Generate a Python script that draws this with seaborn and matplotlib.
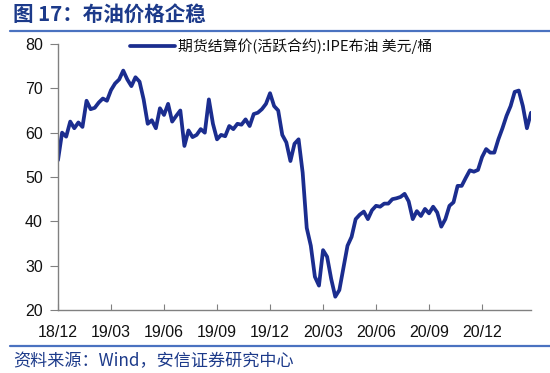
import matplotlib
matplotlib.use("Agg")
import matplotlib.pyplot as plt
import seaborn as sns
import pandas as pd
import numpy as np

# ---- data (weekly readings of Brent settlement, USD/bbl) ----
prices = [
    53.8, 60.0, 59.1, 62.5, 61.0, 62.3, 61.3, 67.2, 65.3, 65.6,
    66.8, 67.7, 67.2, 69.6, 71.1, 72.0, 74.0, 72.0, 70.5, 72.5,
    71.5, 67.5, 62.0, 62.8, 61.0, 65.5, 64.0, 66.5, 62.5, 63.8,
    65.0, 57.0, 60.5, 59.0, 59.5, 60.8, 60.0, 67.5, 62.0, 58.5,
    59.5, 59.2, 61.5, 60.8, 62.0, 61.8, 63.0, 61.5, 64.2, 64.5,
    65.3, 66.5, 68.9, 66.0, 65.0, 59.5, 57.8, 53.6, 57.5, 58.5,
    51.0, 38.5, 34.5, 27.5, 25.5, 33.5, 32.0, 27.0, 23.0, 24.5,
    29.5, 34.5, 36.5, 40.5, 41.5, 42.2, 40.5, 42.5, 43.5, 43.3,
    44.0, 44.0, 45.0, 45.2, 45.5, 46.2, 44.5, 40.5, 42.3, 41.2,
    42.8, 41.8, 43.3, 42.0, 38.8, 40.5, 43.5, 44.3, 48.0, 48.0,
    49.8, 51.5, 51.2, 51.6, 54.5, 56.3, 55.5, 55.5, 58.5, 61.0,
    63.8, 66.0, 69.2, 69.5, 66.0, 61.0, 64.5,
]
tick_labels = ["18/12", "19/03", "19/06", "19/09", "19/12",
               "20/03", "20/06", "20/09", "20/12"]
series_name = "期货结算价(活跃合约):IPE布油 美元/桶"
title_text = "图 17：布油价格企稳"
source_text = "资料来源：Wind，安信证券研究中心"

dates = pd.date_range("2018-12-03", periods=len(prices), freq="7D")
df = pd.DataFrame({"date": dates, "price": prices})

sns.set_theme(style="white")
plt.rcParams["font.family"] = ["Liberation Sans", "Noto Sans CJK SC", "DejaVu Sans"]

navy = "#1C3A8A"
line_col = "#1B2D8F"
axis_col = "#808080"

fig = plt.figure(figsize=(5.5, 3.73), dpi=100)
ax = fig.add_axes([58 / 550, 1 - 310 / 373, (531 - 58) / 550, (310 - 44) / 373])

sns.lineplot(data=df, x="date", y="price", ax=ax, color=line_col,
             linewidth=2.7, label=series_name)

ax.set_xlim(dates[0], dates[-1])
ax.set_ylim(20, 80)
ax.set_yticks([20, 30, 40, 50, 60, 70, 80])
ax.set_xticks(dates[::13][:len(tick_labels)])
ax.set_xticklabels(tick_labels)
ax.set_xlabel("")
ax.set_ylabel("")

for s in ["top", "right"]:
    ax.spines[s].set_visible(False)
for s in ["left", "bottom"]:
    ax.spines[s].set_color(axis_col)
    ax.spines[s].set_linewidth(1.0)

ax.tick_params(axis="y", direction="out", length=6, width=0.8, color=axis_col,
               labelsize=11.5, labelcolor="#111111", pad=5, left=True)
ax.tick_params(axis="x", direction="in", length=4, width=0.8, color=axis_col,
               labelsize=11.5, labelcolor="#111111", pad=11, bottom=True)

leg = ax.legend(loc="upper left", bbox_to_anchor=(0.14, 1.045), frameon=False,
                handlelength=3.0, handletextpad=0.25, borderaxespad=0,
                prop={"family": ["Noto Sans CJK SC", "DejaVu Sans"], "size": 10.7})
for t in leg.get_texts():
    t.set_color("#111111")

# header and footer
fig.text(13 / 550, 1 - 14 / 373, title_text, color=navy, fontsize=14.8,
         fontweight="bold", va="center", ha="left",
         family=["Noto Sans CJK SC", "DejaVu Sans"])
fig.add_artist(plt.Line2D([10 / 550, 1.0], [1 - 31 / 373, 1 - 31 / 373],
                          color="#4A72C0", linewidth=1.6))
fig.add_artist(plt.Line2D([10 / 550, 1.0], [1 - 346 / 373, 1 - 346 / 373],
                          color="#4A72C0", linewidth=1.6))
fig.text(13 / 550, 1 - 361 / 373, source_text, color=navy, fontsize=12.3,
         style="italic", va="center", ha="left",
         family=["Noto Sans CJK SC", "DejaVu Sans"])

fig.savefig("out.png", dpi=100)
